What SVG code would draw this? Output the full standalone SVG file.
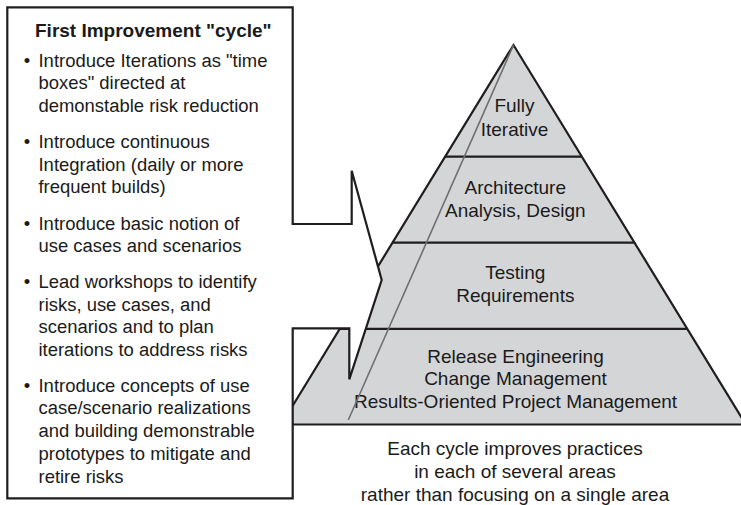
<svg xmlns="http://www.w3.org/2000/svg" width="741" height="505" viewBox="0 0 741 505">
<style>
  .edge{fill:none;stroke:#1f1d1e;stroke-width:2.2;stroke-linecap:butt}
  .lvl{fill:#d4d5d7;stroke:none}
  .t{font-family:"Liberation Sans",Arial,sans-serif;font-size:19px;fill:#1a1a1a}
  .b{font-family:"Liberation Sans",Arial,sans-serif;font-size:18.45px;fill:#1a1a1a}
  .c{text-anchor:middle}
  .title{font-family:"Liberation Sans",Arial,sans-serif;font-size:19px;font-weight:bold;fill:#1a1a1a}
</style>
<rect width="741" height="505" fill="#ffffff"/>
<g id="pyramid">
  <polygon class="lvl" points="513.5,45 745.8,424.5 281.2,424.5"/>
  <line class="edge" x1="445.1" y1="156.7" x2="581.9" y2="156.7"/>
  <line class="edge" x1="392.5" y1="242.7" x2="634.5" y2="242.7"/>
  <line class="edge" x1="339.7" y1="328.8" x2="687.3" y2="328.8"/>
  <line class="edge" x1="281.2" y1="424.5" x2="745.8" y2="424.5"/>
  <polyline class="edge" points="281.2,424.5 513.5,45 745.8,424.5" stroke-linejoin="miter"/>
</g>
<g id="level-1">
  <text class="t c" x="514.5" y="111.7">Fully</text>
  <text class="t c" x="514.5" y="136">Iterative</text>
</g>
<g id="level-2">
  <text class="t c" x="515.3" y="194">Architecture</text>
  <text class="t c" x="515.3" y="216.5">Analysis, Design</text>
</g>
<g id="level-3">
  <text class="t c" x="515.3" y="278.5">Testing</text>
  <text class="t c" x="515.3" y="302">Requirements</text>
</g>
<g id="level-4">
  <text class="t c" x="515.5" y="362.5">Release Engineering</text>
  <text class="t c" x="515.5" y="385.2">Change Management</text>
  <text class="t c" x="515.5" y="408">Results-Oriented Project Management</text>
</g>
<g id="connectors">
  <line x1="513.5" y1="45" x2="348.3" y2="420" stroke="#6f6f70" stroke-width="1.6"/>
</g>
<g id="callout">
  <polygon points="7.3,7.3 292.7,7.3 292.7,224 351.7,224 351.7,170.7 381.7,280 349.3,379.3 349.3,328.3 292.7,328.3 292.7,498.3 7.3,498.3" fill="#ffffff" stroke="#1f1d1e" stroke-width="2.2" stroke-linejoin="miter"/>
  <text class="title" x="35" y="36.7">First Improvement "cycle"</text>
  <g class="b">
    <text x="27" y="66.7" class="c">•</text>
    <text x="38.5" y="66.7">Introduce Iterations as "time</text>
    <text x="38.5" y="89.4">boxes" directed at</text>
    <text x="38.5" y="112.1">demonstable risk reduction</text>
    <text x="27" y="148" class="c">•</text>
    <text x="38.5" y="148">Introduce continuous</text>
    <text x="38.5" y="170.7">Integration (daily or more</text>
    <text x="38.5" y="193.4">frequent builds)</text>
    <text x="27" y="229.5" class="c">•</text>
    <text x="38.5" y="229.5">Introduce basic notion of</text>
    <text x="38.5" y="252.2">use cases and scenarios</text>
    <text x="27" y="288" class="c">•</text>
    <text x="38.5" y="288">Lead workshops to identify</text>
    <text x="38.5" y="310.7">risks, use cases, and</text>
    <text x="38.5" y="333.4">scenarios and to plan</text>
    <text x="38.5" y="356.1">iterations to address risks</text>
    <text x="27" y="391.7" class="c">•</text>
    <text x="38.5" y="391.7">Introduce concepts of use</text>
    <text x="38.5" y="414.4">case/scenario realizations</text>
    <text x="38.5" y="437.1">and building demonstrable</text>
    <text x="38.5" y="459.8">prototypes to mitigate and</text>
    <text x="38.5" y="482.5">retire risks</text>
  </g>
</g>
<g id="caption">
  <text class="t c" x="515" y="455">Each cycle improves practices</text>
  <text class="t c" x="515" y="478.3">in each of several areas</text>
  <text class="t c" x="515" y="501.3">rather than focusing on a single area</text>
</g>
</svg>
